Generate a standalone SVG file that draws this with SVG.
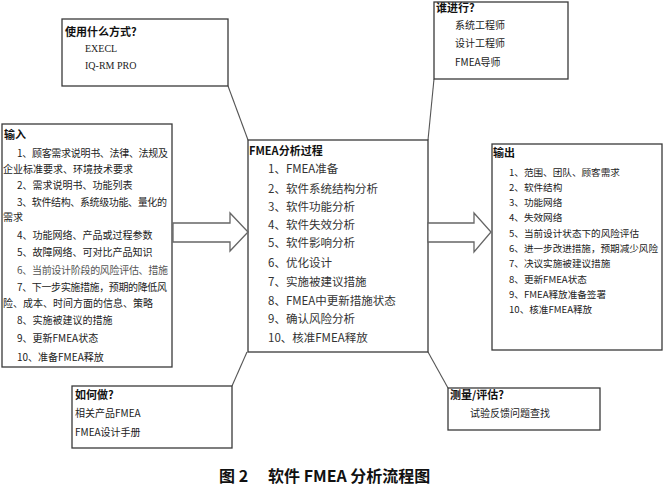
<svg xmlns="http://www.w3.org/2000/svg" width="665" height="488" viewBox="0 0 665 488">
<style>
.box{fill:#fff;stroke:#3a3a3a;stroke-width:1.3}
.arrow{fill:#fff;stroke:#666;stroke-width:1.3}
.conn{fill:none;stroke:#555;stroke-width:1.1}
text{font-family:"Noto Sans CJK SC","Liberation Sans",sans-serif;fill:#222}
.t{font-weight:bold;font-size:11px;fill:#111}
.s{font-size:10px}
.g{fill:#555}
.m{font-size:11.5px;fill:#333}
.r{font-size:9.6px}
.lat{font-family:"Liberation Serif",serif;font-size:10px}
.cap{font-size:16px;font-weight:bold;fill:#111}
</style>
<rect width="665" height="488" fill="#fff"/>
<g id="connectors">
<path class="conn" d="M248,140 L228,86"/>
<path class="conn" d="M428,140 L434,79"/>
<path class="conn" d="M247,352 L232,386"/>
<path class="conn" d="M428,352 L448,388"/>
</g>
<g id="node-how-tool">
<rect class="box" x="62" y="19" width="166" height="67"/>
<text class="t" x="65" y="36">使用什么方式?</text>
<text class="lat" x="85" y="52">EXECL</text>
<text class="lat" x="85" y="69">IQ-RM PRO</text>
</g>
<g id="node-who">
<rect class="box" x="434" y="2" width="134" height="77"/>
<text class="t" x="436" y="12">谁进行?</text>
<text class="s" x="455" y="29">系统工程师</text>
<text class="s" x="455" y="47">设计工程师</text>
<text class="s" x="455" y="66">FMEA导师</text>
</g>
<g id="node-input">
<rect class="box" x="2" y="124" width="170" height="243"/>
<text class="t" x="4" y="139">输入</text>
<text class="s" x="17" y="157" textLength="151">1、顾客需求说明书、法律、法规及</text>
<text class="s" x="3" y="173">企业标准要求、环境技术要求</text>
<text class="s" x="17" y="189">2、需求说明书、功能列表</text>
<text class="s" x="17" y="206" textLength="150">3、软件结构、系统级功能、量化的</text>
<text class="s" x="3" y="221">需求</text>
<text class="s" x="17" y="239">4、功能网络、产品或过程参数</text>
<text class="s" x="17" y="256">5、故障网络、可对比产品知识</text>
<text class="s g" x="17" y="274" textLength="151">6、当前设计阶段的风险评估、措施</text>
<text class="s" x="17" y="291" textLength="150">7、下一步实施措施，预期的降低风</text>
<text class="s" x="3" y="307">险、成本、时间方面的信息、策略</text>
<text class="s" x="17" y="324">8、实施被建议的措施</text>
<text class="s" x="17" y="342">9、更新FMEA状态</text>
<text class="s" x="17" y="361">10、准备FMEA释放</text>
</g>
<g id="node-process">
<rect class="box" x="248" y="140" width="180" height="212"/>
<text class="t" x="249" y="155">FMEA分析过程</text>
<text class="m" x="268" y="173">1、FMEA准备</text>
<text class="m" x="268" y="193">2、软件系统结构分析</text>
<text class="m" x="268" y="211">3、软件功能分析</text>
<text class="m" x="268" y="229">4、软件失效分析</text>
<text class="m" x="268" y="247">5、软件影响分析</text>
<text class="m" x="268" y="267">6、优化设计</text>
<text class="m" x="268" y="286">7、实施被建议措施</text>
<text class="m" x="268" y="305">8、FMEA中更新措施状态</text>
<text class="m" x="268" y="323">9、确认风险分析</text>
<text class="m" x="268" y="342">10、核准FMEA释放</text>
</g>
<g id="node-output">
<rect class="box" x="492" y="144" width="170" height="206"/>
<text class="t" x="493" y="157">输出</text>
<text class="r" x="509" y="176">1、范围、团队、顾客需求</text>
<text class="r" x="509" y="191">2、软件结构</text>
<text class="r" x="509" y="206">3、功能网络</text>
<text class="r" x="509" y="221">4、失效网络</text>
<text class="r" x="509" y="237">5、当前设计状态下的风险评估</text>
<text class="r" x="509" y="252" textLength="149">6、进一步改进措施，预期减少风险</text>
<text class="r" x="509" y="267">7、决议实施被建议措施</text>
<text class="r" x="509" y="283">8、更新FMEA状态</text>
<text class="r" x="509" y="298">9、FMEA释放准备签署</text>
<text class="r" x="509" y="313">10、核准FMEA释放</text>
</g>
<g id="node-how-do">
<rect class="box" x="72" y="386" width="160" height="62"/>
<text class="t" x="75" y="399">如何做?</text>
<text class="s" x="75" y="417">相关产品FMEA</text>
<text class="s" x="75" y="436">FMEA设计手册</text>
</g>
<g id="node-measure">
<rect class="box" x="448" y="388" width="152" height="42"/>
<text class="t" x="450" y="399">测量/评估?</text>
<text class="s" x="470" y="417">试验反馈问题查找</text>
</g>
<g id="arrow-in">
<polygon class="arrow" points="173,223 230,223 230,213 248,232 230,251 230,242 173,242"/>
</g>
<g id="arrow-out">
<polygon class="arrow" points="428,223 474,223 474,213 491,232 474,252 474,242 428,242"/>
</g>
<text class="cap" y="482" xml:space="preserve"><tspan x="219">图 2</tspan><tspan x="268">软件 FMEA 分析流程图</tspan></text>
</svg>
